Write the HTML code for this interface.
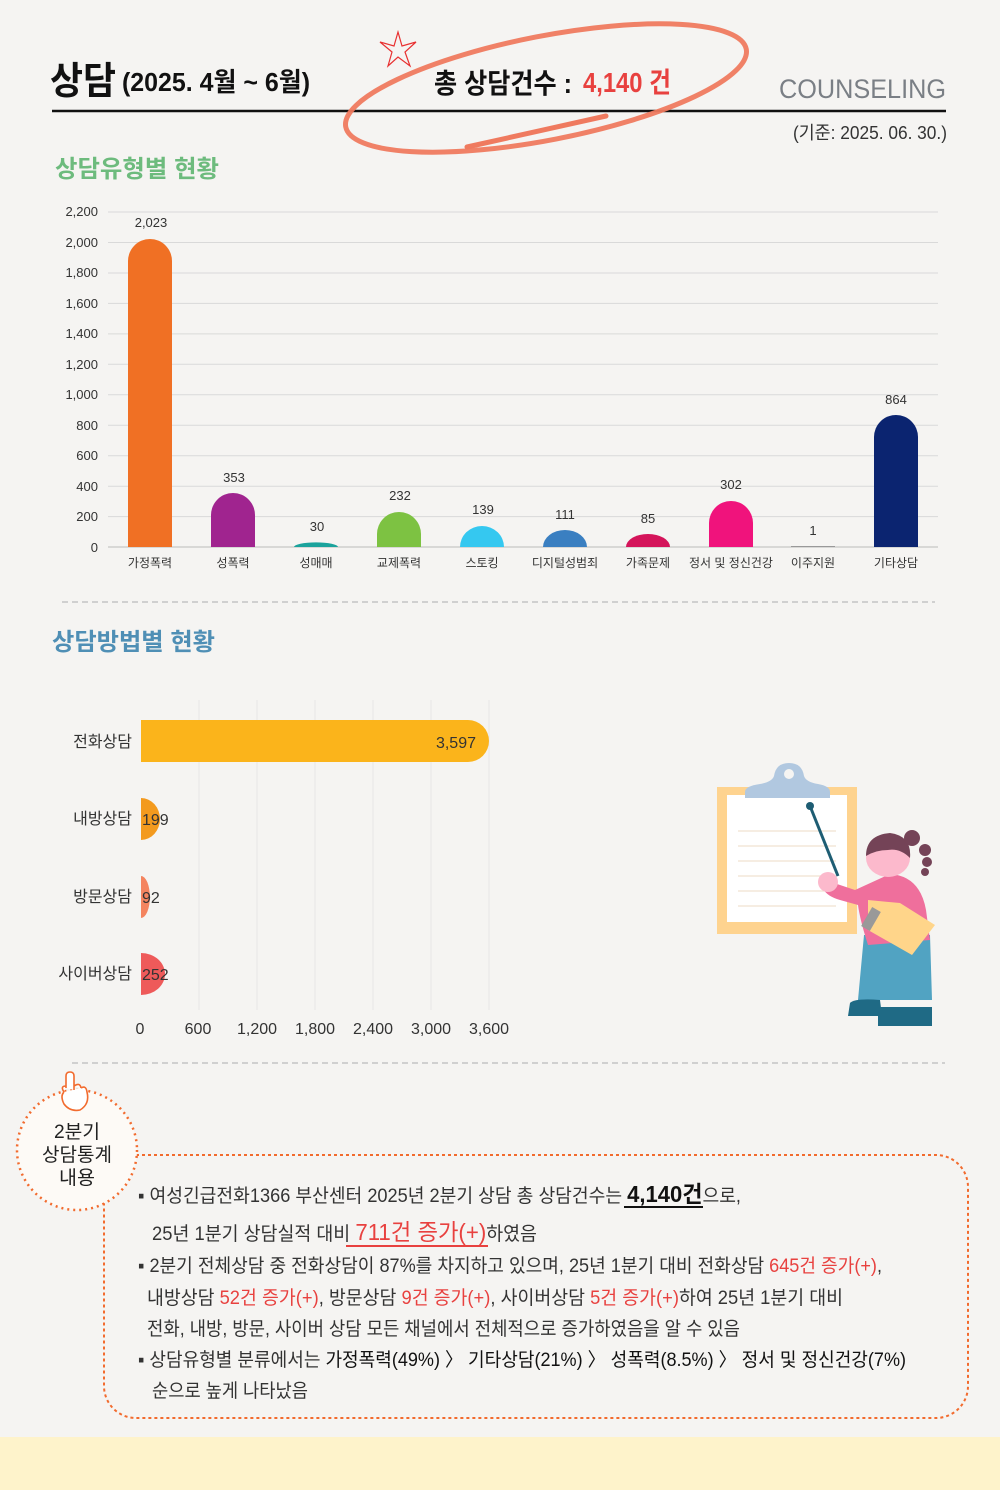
<!DOCTYPE html>
<html><head><meta charset="utf-8"><style>
html,body{margin:0;padding:0;background:#f5f4f2;}
svg{display:block;font-family:"Liberation Sans","Noto Sans CJK KR",sans-serif;}
</style></head><body>
<svg width="1000" height="1490" viewBox="0 0 1000 1490" xmlns="http://www.w3.org/2000/svg">
<rect width="1000" height="1490" fill="#f5f4f2"/>
<rect x="0" y="1437" width="1000" height="53" fill="#fef3cb"/>

<!-- header -->
<text x="50" y="94" font-size="38" font-weight="bold" fill="#111" textLength="66" lengthAdjust="spacingAndGlyphs">상담</text>
<text x="122" y="91" font-size="26" font-weight="bold" fill="#111" textLength="188" lengthAdjust="spacingAndGlyphs">(2025. 4월 ~ 6월)</text>
<text x="434" y="93" font-size="28" font-weight="bold" fill="#111" textLength="138" lengthAdjust="spacingAndGlyphs">총 상담건수 :</text>
<text x="583" y="92" font-size="28" font-weight="bold" fill="#e8413f" textLength="88" lengthAdjust="spacingAndGlyphs">4,140 건</text>
<text x="779" y="98" font-size="27" fill="#7a7f85" textLength="167" lengthAdjust="spacingAndGlyphs">COUNSELING</text>
<line x1="52" y1="111" x2="946" y2="111" stroke="#111" stroke-width="2.5"/>
<text x="793" y="139" font-size="18" fill="#333" textLength="154" lengthAdjust="spacingAndGlyphs">(기준: 2025. 06. 30.)</text>
<ellipse cx="546" cy="88" rx="204" ry="52" transform="rotate(-11 546 88)" fill="none" stroke="#ef7a5f" stroke-width="5" opacity="0.95"/>
<line x1="467" y1="147" x2="606" y2="116" stroke="#ef7a5f" stroke-width="5" stroke-linecap="round"/>
<polygon points="398,32 402,46 416,42 405,52 410,66 398,57 388,66 392,52 380,42 394,46" fill="none" stroke="#e83030" stroke-width="1.2"/>

<!-- section 1 -->
<text x="55" y="177" font-size="24" font-weight="bold" fill="#6dbb7d" textLength="164" lengthAdjust="spacingAndGlyphs">상담유형별 현황</text>
<g stroke="#d9d9d9" stroke-width="1">
<line x1="108" y1="212" x2="938" y2="212"/><line x1="108" y1="242.5" x2="938" y2="242.5"/><line x1="108" y1="273" x2="938" y2="273"/><line x1="108" y1="303.4" x2="938" y2="303.4"/><line x1="108" y1="333.9" x2="938" y2="333.9"/><line x1="108" y1="364.3" x2="938" y2="364.3"/><line x1="108" y1="394.8" x2="938" y2="394.8"/><line x1="108" y1="425.3" x2="938" y2="425.3"/><line x1="108" y1="455.7" x2="938" y2="455.7"/><line x1="108" y1="486.2" x2="938" y2="486.2"/><line x1="108" y1="516.6" x2="938" y2="516.6"/><line x1="108" y1="547" x2="938" y2="547" stroke="#bbb"/>
</g>
<g font-size="13" fill="#333" text-anchor="end">
<text x="98" y="216">2,200</text><text x="98" y="247">2,000</text><text x="98" y="277">1,800</text><text x="98" y="308">1,600</text><text x="98" y="338">1,400</text><text x="98" y="369">1,200</text><text x="98" y="399">1,000</text><text x="98" y="430">800</text><text x="98" y="460">600</text><text x="98" y="491">400</text><text x="98" y="521">200</text><text x="98" y="552">0</text>
</g>
<!-- bars -->
<path d="M128,547 V261 A22 22 0 0 1 172,261 V547 Z" fill="#f07024"/>
<path d="M211,547 V515 A22 22 0 0 1 255,515 V547 Z" fill="#a0248f"/>
<path d="M294,547 A22 4.6 0 0 1 338,547 Z" fill="#1ba39c"/>
<path d="M377,547 V534 A22 22 0 0 1 421,534 V547 Z" fill="#7dc242"/>
<path d="M460,547 V547 A22 21 0 0 1 504,547 Z" fill="#35c8f0"/>
<path d="M543,547 A22 17 0 0 1 587,547 Z" fill="#3a7fc1"/>
<path d="M626,547 A22 13 0 0 1 670,547 Z" fill="#d4145a"/>
<path d="M709,547 V523 A22 22 0 0 1 753,523 V547 Z" fill="#f0137c"/>
<rect x="791" y="546" width="44" height="1" fill="#999"/>
<path d="M874,547 V437 A22 22 0 0 1 918,437 V547 Z" fill="#0b2470"/>
<g font-size="13" fill="#333" text-anchor="middle">
<text x="151" y="227">2,023</text><text x="234" y="482">353</text><text x="317" y="531">30</text><text x="400" y="500">232</text><text x="483" y="514">139</text><text x="565" y="519">111</text><text x="648" y="523">85</text><text x="731" y="489">302</text><text x="813" y="535">1</text><text x="896" y="404">864</text>
</g>
<g font-size="12" fill="#333" text-anchor="middle">
<text x="150" y="567">가정폭력</text><text x="233" y="567">성폭력</text><text x="316" y="567">성매매</text><text x="399" y="567">교제폭력</text><text x="482" y="567">스토킹</text><text x="565" y="567">디지털성범죄</text><text x="648" y="567">가족문제</text><text x="731" y="567">정서 및 정신건강</text><text x="813" y="567">이주지원</text><text x="896" y="567">기타상담</text>
</g>
<line x1="62" y1="602" x2="935" y2="602" stroke="#d0d0d0" stroke-width="2" stroke-dasharray="6,4"/>

<!-- section 2 -->
<text x="52" y="650" font-size="24" font-weight="bold" fill="#4f8fb5" textLength="163" lengthAdjust="spacingAndGlyphs">상담방법별 현황</text>
<g stroke="#e6e6e6" stroke-width="1">
<line x1="199" y1="700" x2="199" y2="1010"/><line x1="257" y1="700" x2="257" y2="1010"/><line x1="315" y1="700" x2="315" y2="1010"/><line x1="373" y1="700" x2="373" y2="1010"/><line x1="431" y1="700" x2="431" y2="1010"/><line x1="489" y1="700" x2="489" y2="1010"/>
</g>
<path d="M141,720 H468 A21 21 0 0 1 468,762 H141 Z" fill="#fbb41b"/>
<path d="M141,798 H141 A19 21 0 0 1 141,840 Z" fill="#f39a1e"/>
<path d="M141,876 H141 A8.9 21 0 0 1 141,918 Z" fill="#f4845f"/>
<path d="M141,953 A24 21 0 0 1 141,995 Z" fill="#ee5a5a"/>
<g font-size="16" fill="#333">
<text x="132" y="747" text-anchor="end">전화상담</text><text x="132" y="824" text-anchor="end">내방상담</text><text x="132" y="902" text-anchor="end">방문상담</text><text x="132" y="979" text-anchor="end">사이버상담</text>
<text x="476" y="748" text-anchor="end">3,597</text><text x="142" y="825">199</text><text x="142" y="903">92</text><text x="142" y="980">252</text>
</g>
<g font-size="16" fill="#333" text-anchor="middle">
<text x="140" y="1034">0</text><text x="198" y="1034">600</text><text x="257" y="1034">1,200</text><text x="315" y="1034">1,800</text><text x="373" y="1034">2,400</text><text x="431" y="1034">3,000</text><text x="489" y="1034">3,600</text>
</g>

<!-- illustration -->
<rect x="717" y="787" width="140" height="147" fill="#fed38f"/>
<rect x="727" y="795" width="120" height="127" fill="#fff"/>
<path d="M745,798 V792 Q745,786 760,784 Q772,782 774,776 Q776,763 789,763 Q802,763 804,776 Q806,782 818,784 Q830,786 830,792 V798 Z" fill="#b1c8e0"/>
<circle cx="789" cy="774" r="5" fill="#f5f4f2"/>
<g stroke="#f0e2d0" stroke-width="1.2"><line x1="738" y1="831" x2="836" y2="831"/><line x1="738" y1="846" x2="836" y2="846"/><line x1="738" y1="861" x2="836" y2="861"/><line x1="738" y1="876" x2="836" y2="876"/><line x1="738" y1="891" x2="836" y2="891"/><line x1="738" y1="906" x2="836" y2="906"/></g>
<line x1="810" y1="806" x2="838" y2="876" stroke="#1e5d73" stroke-width="3"/>
<circle cx="810" cy="806" r="4" fill="#1e5d73"/>
<path d="M864,935 H930 L932,1000 H858 Z" fill="#51a3c2"/>
<path d="M850,1003 Q855,998 880,1000 L882,1016 H848 Z" fill="#1f6a85"/>
<path d="M878,1007 H932 V1026 H878 Z" fill="#1f6a85" rx="6"/>
<path d="M825,880 L855,890 L890,874 Q920,876 926,910 L930,940 L868,945 Q860,920 858,905 L840,900 Q826,896 823,888 Z" fill="#ef6f9c"/>
<circle cx="828" cy="882" r="10" fill="#fcb9cc"/>
<path d="M868,900 L900,903 L935,925 L912,955 L868,930 Z" fill="#ffd58a"/>
<rect x="866" y="908" width="10" height="22" fill="#999" transform="rotate(30 871 919)"/>
<ellipse cx="888" cy="858" rx="22" ry="19" fill="#fcb9cc"/>
<path d="M866,856 Q866,835 890,833 Q912,836 910,858 Q900,848 888,850 Q876,850 866,856 Z" fill="#744357"/>
<circle cx="912" cy="838" r="8" fill="#744357"/><circle cx="925" cy="850" r="6" fill="#744357"/><circle cx="927" cy="862" r="5" fill="#744357"/><circle cx="925" cy="872" r="4" fill="#744357"/>

<line x1="72" y1="1063" x2="945" y2="1063" stroke="#d0d0d0" stroke-width="2" stroke-dasharray="6,4"/>

<!-- summary -->
<rect x="104" y="1155" width="864" height="263" rx="32" fill="none" stroke="#f26b2e" stroke-width="2" stroke-dasharray="3,3"/>
<circle cx="77" cy="1150" r="60" fill="#fdfaf6" stroke="#f26b2e" stroke-width="2.5" stroke-dasharray="2,4"/>
<path d="M66,1088 V1076 Q66,1072 70,1072 Q74,1072 74,1076 V1090 M64,1092 Q60,1086 66,1086 M74,1086 Q80,1082 81,1088 M81,1088 Q86,1085 87,1092 Q90,1104 80,1110 Q70,1112 64,1104 Q60,1096 64,1092" fill="#fff" stroke="#f26b2e" stroke-width="1.6"/>
<g font-size="19" fill="#222" text-anchor="middle">
<text x="77" y="1138" textLength="46" lengthAdjust="spacingAndGlyphs">2분기</text>
<text x="77" y="1161" textLength="70" lengthAdjust="spacingAndGlyphs">상담통계</text>
<text x="77" y="1184" textLength="36" lengthAdjust="spacingAndGlyphs">내용</text>
</g>
<g font-size="19" fill="#333">
<text x="138" y="1202" textLength="603" lengthAdjust="spacingAndGlyphs">▪ 여성긴급전화1366 부산센터 2025년 2분기 상담 총 상담건수는 <tspan font-size="23" font-weight="bold" fill="#111">4,140건</tspan>으로,</text>
<line x1="624" y1="1207" x2="703" y2="1207" stroke="#111" stroke-width="2"/>
<text x="152" y="1240" textLength="385" lengthAdjust="spacingAndGlyphs">25년 1분기 상담실적 대비 <tspan font-size="23" fill="#e8413f">711건 증가(+)</tspan>하였음</text>
<line x1="346" y1="1246" x2="488" y2="1246" stroke="#e8413f" stroke-width="2"/>
<text x="138" y="1272" textLength="744" lengthAdjust="spacingAndGlyphs">▪ 2분기 전체상담 중 전화상담이 87%를 차지하고 있으며, 25년 1분기 대비 전화상담 <tspan fill="#e8413f">645건 증가(+)</tspan>,</text>
<text x="147" y="1304" textLength="696" lengthAdjust="spacingAndGlyphs">내방상담 <tspan fill="#e8413f">52건 증가(+)</tspan>, 방문상담 <tspan fill="#e8413f">9건 증가(+)</tspan>, 사이버상담 <tspan fill="#e8413f">5건 증가(+)</tspan>하여 25년 1분기 대비</text>
<text x="147" y="1335" textLength="593" lengthAdjust="spacingAndGlyphs">전화, 내방, 방문, 사이버 상담 모든 채널에서 전체적으로 증가하였음을 알 수 있음</text>
<text x="138" y="1366" textLength="768" lengthAdjust="spacingAndGlyphs">▪ 상담유형별 분류에서는 <tspan fill="#111">가정폭력(49%) 〉 기타상담(21%) 〉 성폭력(8.5%) 〉 정서 및 정신건강(7%)</tspan></text>
<text x="152" y="1397" textLength="156" lengthAdjust="spacingAndGlyphs">순으로 높게 나타났음</text>
</g>
</svg>
</body></html>
